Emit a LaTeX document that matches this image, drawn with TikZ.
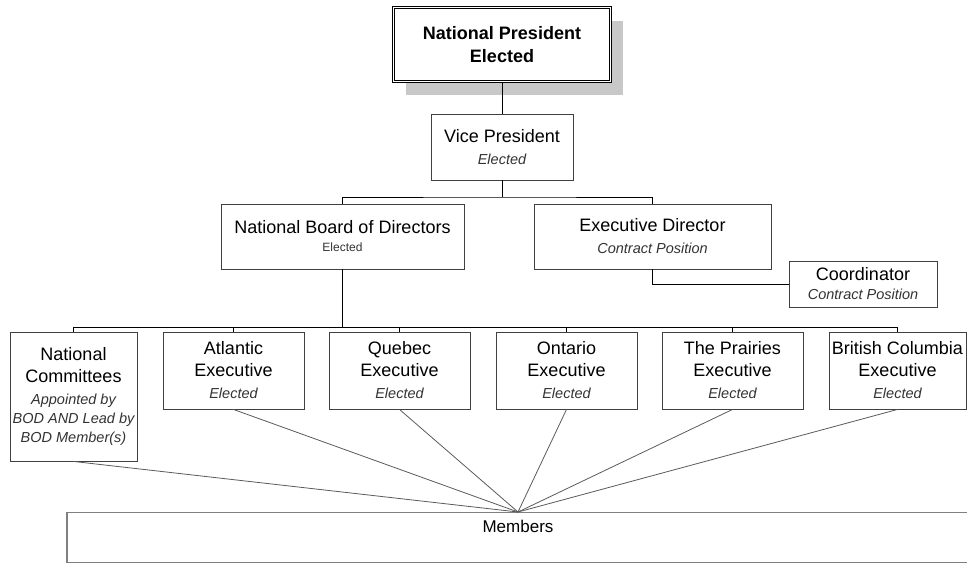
\documentclass[tikz,border=0pt]{standalone}
\usepackage{fontspec}
\setmainfont{Liberation Sans}
\usetikzlibrary{shadows}

\definecolor{boxline}{HTML}{404040}
\definecolor{fanline}{HTML}{5A5A5A}
\definecolor{shadowgray}{HTML}{C8C8C8}
\definecolor{subtext}{HTML}{333333}

\newcommand{\roleline}[1]{{\fontsize{14.5}{19}\selectfont\itshape\color{subtext}#1}}

\tikzset{
  unit/.style={draw=boxline, fill=white, line width=0.9pt, align=center, inner sep=0pt,
    font=\fontsize{18}{22}\selectfont},
  link/.style={draw=black, line width=0.9pt},
  fan/.style={draw=fanline, line width=0.8pt},
}

\begin{document}
\begin{tikzpicture}[x=1pt,y=-1pt]
\clip (0,0) rectangle (967,563);

% head office
\node[unit, draw=black, double, double distance=1.6pt, line width=0.8pt,
  minimum width=217, minimum height=74,
  drop shadow={shadow xshift=12pt, shadow yshift=-13pt, fill=shadowgray, opacity=1},
  font=\fontsize{18}{23}\selectfont\bfseries] (pres) at (502,44.5) {National President\\Elected};
\node[unit, minimum width=142, minimum height=66] (vp) at (502,147) {Vice President\\\roleline{Elected}};
\node[unit, minimum width=243, minimum height=65] (nbd) at (342.5,236.5)
  {National Board of Directors\\[-4pt]{\fontsize{12}{14}\selectfont\color{subtext}Elected}};
\node[unit, minimum width=237, minimum height=65] (ed) at (652.5,236.5) {Executive Director\\\roleline{Contract Position}};
\node[unit, minimum width=148, minimum height=46] (coord) at (863,284) {Coordinator\\[-3pt]\roleline{Contract Position}};

% regions
\node[unit, minimum width=127, minimum height=129] (nc) at (73.5,396.5)
  {National\\Committees\\\roleline{Appointed by}\\[-3pt]\roleline{BOD AND Lead by}\\[-3pt]\roleline{BOD Member(s)}};
\node[unit, minimum width=141, minimum height=77] (atl) at (233.5,370.5) {Atlantic\\Executive\\\roleline{Elected}};
\node[unit, minimum width=141, minimum height=77] (que) at (399.5,370.5) {Quebec\\Executive\\\roleline{Elected}};
\node[unit, minimum width=141, minimum height=77] (ont) at (566.5,370.5) {Ontario\\Executive\\\roleline{Elected}};
\node[unit, minimum width=141, minimum height=77] (pra) at (732.5,370.5) {The Prairies\\Executive\\\roleline{Elected}};
\node[unit, minimum width=137, minimum height=77] (bc) at (897.5,370.5) {British Columbia\\Executive\\\roleline{Elected}};

% members bar, runs off the right side
\node[unit, draw=gray, line width=1.3pt, minimum width=902, minimum height=50, anchor=north] (members) at (518,512) {};
\node[font=\fontsize{17}{20}\selectfont] (memtext) at (518,526) {Members};

% tree lines
\coordinate (topbus) at (502,197);
\coordinate (regbus) at (342.5,327);
\draw[link] (pres.south) -- (vp.north);
\draw[link] (vp.south) -- (topbus);
\draw[link] (nbd.north) |- (topbus) -| (ed.north);
\draw[link] (ed.south) |- (coord.west);
\draw[link] (nbd.south) -- (regbus);
\draw[link] (nc.north) |- (bc.north |- regbus) -- (bc.north);
\foreach \r in {atl,que,ont,pra}
  \draw[link] (\r.north) -- (\r.north |- regbus);

% everyone reports down to the members
\foreach \r in {nc,atl,que,ont,pra,bc}
  \draw[fan] (\r.south) -- (members.north);
\end{tikzpicture}
\end{document}
